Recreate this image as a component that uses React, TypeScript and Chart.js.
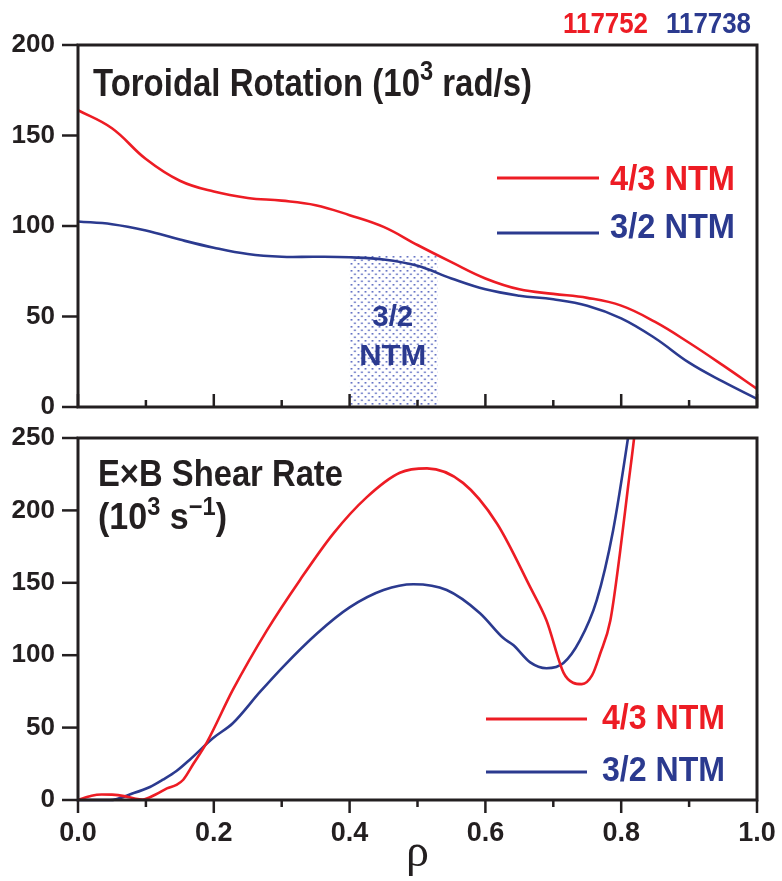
import React, { useEffect, useRef } from 'react';
import { Chart, registerables } from 'chart.js';
Chart.register(...registerables);

// ---------- data ----------
const shotNumbers = ['117752', '117738'];
const seriesLabels = ['4/3 NTM', '3/2 NTM'];

const rhoTop = [0, 0.05, 0.1, 0.15, 0.2, 0.25, 0.3, 0.35, 0.4, 0.45, 0.5, 0.55, 0.6, 0.65, 0.7, 0.75, 0.8, 0.85, 0.9, 0.95, 1.0];
const rotation43 = [164, 154, 137, 125, 119, 115.5, 114, 111.5, 106, 99.5, 89.5, 80, 71, 65, 62.5, 60.3, 56, 47, 35.5, 23, 10];
const rotation32 = [102.5, 101, 97.5, 92.5, 88, 84.5, 83, 83, 82.7, 81.5, 78, 71, 65, 61.5, 59.5, 56, 49, 38, 24.5, 14, 4.5];

const rhoShear43 = [0, 0.02, 0.035, 0.05, 0.07, 0.085, 0.095, 0.115, 0.131, 0.145, 0.155, 0.17, 0.19, 0.228, 0.278, 0.327, 0.376, 0.425, 0.474, 0.514, 0.567, 0.617, 0.666, 0.69, 0.715, 0.729, 0.742, 0.757, 0.769, 0.784, 0.798, 0.81, 0.819, 0.83];
const shear43 = [0, 3, 3.8, 3.7, 2.5, 0.8, 0.3, 4, 8, 10.5, 14, 25, 40, 76, 117, 152, 184, 209, 226, 229, 219, 191, 147, 124, 88, 81, 80, 86, 101, 124, 170, 216, 250, 300];
const rhoShear32 = [0, 0.047, 0.081, 0.106, 0.125, 0.145, 0.165, 0.199, 0.228, 0.268, 0.302, 0.352, 0.4, 0.45, 0.494, 0.543, 0.592, 0.626, 0.641, 0.666, 0.69, 0.715, 0.739, 0.764, 0.788, 0.81, 0.825];
const shear32 = [0, 0, 4.6, 9, 14, 20, 28, 42.8, 53, 74.6, 92, 115, 133, 145, 149, 145, 129, 112, 107, 95, 91, 94.6, 110, 138, 186, 250, 300];

const ntmRegionRho = [0.4, 0.53];
const ntmRegionTop = 84;
const ntmRegionText = ['3/2', 'NTM'];

const xMajorTicks = [0, 0.2, 0.4, 0.6, 0.8, 1.0];
const xMinorTicks = [0.1, 0.3, 0.5, 0.7, 0.9];
const rotationTicks = [0, 50, 100, 150, 200];
const shearTicks = [0, 50, 100, 150, 200, 250];

// ---------- styles ----------
const RED = '#ed1c24';
const BLUE = '#2b3a8f';
const INK = '#231f20';
const FONT = "'Liberation Sans Narrow', 'Liberation Sans', Arial, sans-serif";

type Seg = { t: string; size: number; dy?: number };

function fitText(ctx: CanvasRenderingContext2D, segs: Seg[], x: number, y: number, width: number, color: string, align: 'left' | 'center' = 'left') {
  ctx.save();
  let natural = 0;
  const widths = segs.map((s) => {
    ctx.font = `bold ${s.size}px ${FONT}`;
    const w = ctx.measureText(s.t).width;
    natural += w;
    return w;
  });
  const sx = width / natural;
  const x0 = align === 'center' ? x - width / 2 : x;
  ctx.translate(x0, y);
  ctx.scale(sx, 1);
  ctx.fillStyle = color;
  ctx.textBaseline = 'alphabetic';
  ctx.textAlign = 'left';
  let cx = 0;
  segs.forEach((s, i) => {
    ctx.font = `bold ${s.size}px ${FONT}`;
    ctx.fillText(s.t, cx, s.dy || 0);
    cx += widths[i];
  });
  ctx.restore();
}

function line(ctx: CanvasRenderingContext2D, x1: number, y1: number, x2: number, y2: number, color: string, w: number) {
  ctx.save();
  ctx.strokeStyle = color;
  ctx.lineWidth = w;
  ctx.beginPath();
  ctx.moveTo(x1, y1);
  ctx.lineTo(x2, y2);
  ctx.stroke();
  ctx.restore();
}

function drawFrameAndTicks(chart: any, yTicks: number[], xTicksInward: boolean) {
  const ctx = chart.ctx as CanvasRenderingContext2D;
  const { left, right, top, bottom } = chart.chartArea;
  const xs = chart.scales.x;
  const ys = chart.scales.y;
  yTicks.forEach((v) => {
    const y = ys.getPixelForValue(v);
    line(ctx, left - 16, y, left, y, INK, 2.5);
  });
  const dir = xTicksInward ? -1 : 1;
  xMajorTicks.forEach((v) => {
    const x = xs.getPixelForValue(v);
    line(ctx, x, bottom, x, bottom + dir * 13, INK, 2.5);
  });
  xMinorTicks.forEach((v) => {
    const x = xs.getPixelForValue(v);
    line(ctx, x, bottom, x, bottom + dir * 7, INK, 2.5);
  });
  ctx.save();
  ctx.strokeStyle = INK;
  ctx.lineWidth = 3;
  ctx.strokeRect(left, top, right - left, bottom - top);
  ctx.restore();
}

function legend(ctx: CanvasRenderingContext2D, x1: number, x2: number, y: number, tx: number, tb: number, tw: number, text: string, color: string) {
  line(ctx, x1, y, x2, y, color, 3);
  fitText(ctx, [{ t: text, size: 35 }], tx, tb, tw, color);
}

function makePattern(ctx: CanvasRenderingContext2D) {
  const c = document.createElement('canvas');
  c.width = 7;
  c.height = 7;
  const p = c.getContext('2d')!;
  p.fillStyle = 'rgba(45,65,175,0.85)';
  p.fillRect(1, 1, 1.6, 1.6);
  p.fillRect(4.5, 4.5, 1.6, 1.6);
  return ctx.createPattern(c, 'repeat');
}

const topPlugin = {
  id: 'topDecor',
  beforeDatasetsDraw(chart: any) {
    const ctx = chart.ctx as CanvasRenderingContext2D;
    const xs = chart.scales.x;
    const ys = chart.scales.y;
    const l = xs.getPixelForValue(ntmRegionRho[0]);
    const r = xs.getPixelForValue(ntmRegionRho[1]);
    const t = ys.getPixelForValue(ntmRegionTop);
    const b = ys.getPixelForValue(0);
    ctx.save();
    const pat = makePattern(ctx);
    if (pat) {
      ctx.translate(l, t);
      ctx.fillStyle = pat;
      ctx.fillRect(0, 0, r - l, b - t);
    }
    ctx.restore();
    const cx = (l + r) / 2 - 1;
    fitText(ctx, [{ t: ntmRegionText[0], size: 30 }], cx, t + 71, 41, BLUE, 'center');
    fitText(ctx, [{ t: ntmRegionText[1], size: 30 }], cx, t + 110, 67, BLUE, 'center');
  },
  afterDraw(chart: any) {
    const ctx = chart.ctx as CanvasRenderingContext2D;
    const { left, right, top } = chart.chartArea;
    drawFrameAndTicks(chart, rotationTicks, true);
    fitText(ctx, [
      { t: 'Toroidal Rotation (10', size: 39 },
      { t: '3', size: 28, dy: -16 },
      { t: ' rad/s)', size: 39 },
    ], left + 15, top + 51, 439, INK);
    legend(ctx, left + 419, left + 521, top + 133, left + 532, top + 145, 125, seriesLabels[0], RED);
    legend(ctx, left + 419, left + 521, top + 188, left + 532, top + 193, 125, seriesLabels[1], BLUE);
    fitText(ctx, [{ t: shotNumbers[0], size: 29 }], right - 194, top - 12, 85, RED);
    fitText(ctx, [{ t: shotNumbers[1], size: 29 }], right - 91, top - 12, 85, BLUE);
  },
};

const bottomPlugin = {
  id: 'bottomDecor',
  afterDraw(chart: any) {
    const ctx = chart.ctx as CanvasRenderingContext2D;
    const { left, top } = chart.chartArea;
    drawFrameAndTicks(chart, shearTicks, false);
    fitText(ctx, [{ t: 'E\u00d7B Shear Rate', size: 36 }], left + 20, top + 48, 245, INK);
    fitText(ctx, [
      { t: '(10', size: 36 },
      { t: '3', size: 25, dy: -14 },
      { t: ' s', size: 36 },
      { t: '\u22121', size: 25, dy: -14 },
      { t: ')', size: 36 },
    ], left + 20, top + 91, 129, INK);
    legend(ctx, left + 408, left + 509, top + 281, left + 524, top + 291, 123, seriesLabels[0], RED);
    legend(ctx, left + 408, left + 509, top + 334, left + 524, top + 343, 123, seriesLabels[1], BLUE);
  },
};

function pts(xs: number[], ys: number[]) {
  return xs.map((x, i) => ({ x, y: ys[i] }));
}

function lineDs(label: string, data: any[], color: string, smooth: boolean) {
  return {
    label,
    data,
    borderColor: color,
    backgroundColor: color,
    borderWidth: 2.6,
    pointRadius: 0,
    tension: smooth ? 0.4 : 0,
    cubicInterpolationMode: smooth ? ('default' as const) : ('monotone' as const),
    fill: false,
    clip: { left: 0, top: 0, right: 0, bottom: 4 },
  };
}

function yScale(max: number, ticks: number[]) {
  return {
    type: 'linear' as const,
    min: 0,
    max,
    grid: { display: false, drawTicks: true, tickLength: 23 },
    border: { display: false },
    ticks: { color: INK, font: { family: "'Liberation Sans', Arial, sans-serif", size: 26, weight: 'bold' as const, lineHeight: 0.9 }, padding: 0 },
    afterBuildTicks: (s: any) => { s.ticks = ticks.map((v) => ({ value: v })); },
    afterFit: (s: any) => { s.width = 78; },
  };
}

export default function App() {
  const topRef = useRef<HTMLCanvasElement>(null);
  const botRef = useRef<HTMLCanvasElement>(null);

  useEffect(() => {
    Chart.defaults.font.family = "'Liberation Sans', Arial, sans-serif";
    const top = new Chart(topRef.current!, {
      type: 'line',
      data: {
        datasets: [
          lineDs(seriesLabels[0], pts(rhoTop, rotation43), RED, true),
          lineDs(seriesLabels[1], pts(rhoTop, rotation32), BLUE, true),
        ],
      },
      options: {
        responsive: false,
        animation: false,
        events: [],
        layout: { padding: { top: 45, right: 25, left: 0, bottom: 0 } },
        plugins: { legend: { display: false }, tooltip: { enabled: false } },
        scales: {
          x: {
            type: 'linear',
            min: 0,
            max: 1,
            grid: { display: false, drawTicks: false },
            border: { display: false },
            ticks: { display: false },
            afterFit: (s: any) => { s.height = 13; },
          },
          y: yScale(200, rotationTicks),
        },
      },
      plugins: [topPlugin],
    });
    const bot = new Chart(botRef.current!, {
      type: 'line',
      data: {
        datasets: [
          lineDs(seriesLabels[0], pts(rhoShear43, shear43), RED, false),
          lineDs(seriesLabels[1], pts(rhoShear32, shear32), BLUE, false),
        ],
      },
      options: {
        responsive: false,
        animation: false,
        events: [],
        layout: { padding: { top: 18, right: 25, left: 0, bottom: 0 } },
        plugins: { legend: { display: false }, tooltip: { enabled: false } },
        scales: {
          x: {
            type: 'linear',
            min: 0,
            max: 1,
            grid: { display: false, drawTicks: true, tickLength: 17 },
            border: { display: false },
            ticks: {
              color: INK,
              font: { size: 27, weight: 'bold' },
              padding: 0,
              maxRotation: 0,
              callback: (v: any) => Number(v).toFixed(1),
            },
            afterBuildTicks: (s: any) => { s.ticks = xMajorTicks.map((v) => ({ value: v })); },
            title: {
              display: true,
              text: '\u03c1',
              color: INK,
              align: 'center',
              font: { family: "'Liberation Serif', 'DejaVu Serif', serif", size: 46, lineHeight: 1 },
              padding: { top: 0, bottom: 4 },
            },
            afterFit: (s: any) => { s.height = 81; },
          },
          y: yScale(250, shearTicks),
        },
      },
      plugins: [bottomPlugin],
    });
    return () => {
      top.destroy();
      bot.destroy();
    };
  }, []);

  return (
    <div style={{ position: 'absolute', left: 0, top: 0, width: 782, height: 881, background: '#fff' }}>
      <canvas ref={topRef} width={782} height={420} style={{ position: 'absolute', left: 0, top: 0, width: 782, height: 420 }} />
      <canvas ref={botRef} width={782} height={461} style={{ position: 'absolute', left: 0, top: 420, width: 782, height: 461 }} />
    </div>
  );
}
